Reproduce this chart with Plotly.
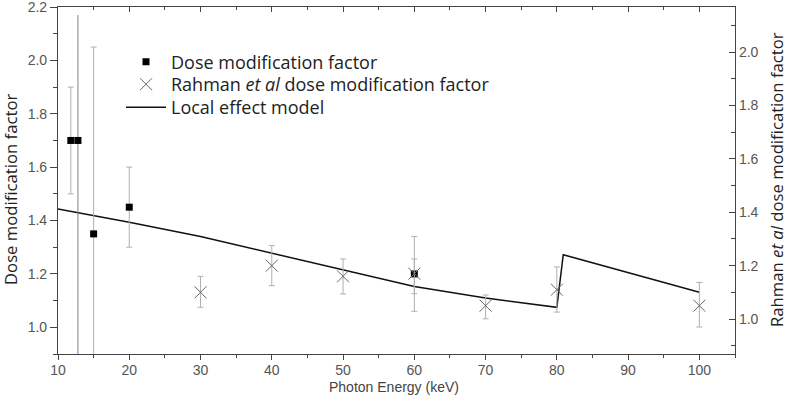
import plotly.graph_objects as go

# ---- data ----
dmf_energy = [11.8, 12.8, 15, 20, 60]
dmf_value = [1.70, 1.70, 1.35, 1.45, 1.20]
dmf_err_plus = [0.20, 0.47, 0.70, 0.15, 0.14]
dmf_err_minus = [0.20, 0.90, 0.70, 0.15, 0.14]

rahman_energy = [30, 40, 50, 60, 70, 80, 100]
rahman_value = [1.10, 1.20, 1.16, 1.17, 1.05, 1.11, 1.05]
rahman_err_plus = [0.06, 0.075, 0.065, 0.055, 0.04, 0.085, 0.087]
rahman_err_minus = [0.056, 0.075, 0.066, 0.075, 0.049, 0.084, 0.08]

lem_energy = [10, 20, 30, 40, 50, 60, 70, 80, 80.9, 100]
lem_value = [1.443, 1.394, 1.340, 1.278, 1.216, 1.153, 1.110, 1.075, 1.272, 1.131]

x_ticks = [10, 20, 30, 40, 50, 60, 70, 80, 90, 100]
y_ticks = [1.0, 1.2, 1.4, 1.6, 1.8, 2.0, 2.2]
y2_ticks = [1.0, 1.2, 1.4, 1.6, 1.8, 2.0]

# ---- styling ----
tick_font = dict(family="Liberation Sans Narrow, Arial Narrow, Liberation Sans, sans-serif", size=14, color="#555")
title_font = dict(family="Open Sans, Noto Sans, sans-serif", size=16.7, color="#222")
legend_font = dict(family="Open Sans, Noto Sans, sans-serif", size=18, color="#222")
axis_col = "#444"

fig = go.Figure()

# Rahman (right axis) drawn first so squares sit on top
fig.add_trace(go.Scatter(
    x=rahman_energy, y=rahman_value, mode="markers", yaxis="y2", legend="legend2",
    name="Rahman <i>et al</i> dose modification factor",
    marker=dict(symbol="x-thin", size=12, line=dict(width=1, color="#666"), color="#666"),
    error_y=dict(type="data", symmetric=False, array=rahman_err_plus, arrayminus=rahman_err_minus,
                 color="#b0b0b0", thickness=1, width=3),
))

# local effect model line
fig.add_trace(go.Scatter(
    x=lem_energy, y=lem_value, mode="lines", name="Local effect model", legend="legend3",
    line=dict(color="#111", width=1.5),
))

# the wide error bar of the second point (darker, no caps)
fig.add_trace(go.Scatter(
    x=dmf_energy[1:2], y=dmf_value[1:2], mode="markers", showlegend=False,
    marker=dict(symbol="square", size=7, color="#000"),
    error_y=dict(type="data", symmetric=False, array=dmf_err_plus[1:2], arrayminus=dmf_err_minus[1:2],
                 color="#808080", thickness=1, width=0),
))

# dose modification factor squares
idx = [0, 2, 3, 4]
fig.add_trace(go.Scatter(
    x=[dmf_energy[i] for i in idx], y=[dmf_value[i] for i in idx], mode="markers",
    name="Dose modification factor", legend="legend",
    marker=dict(symbol="square", size=7, color="#000"),
    error_y=dict(type="data", symmetric=False,
                 array=[dmf_err_plus[i] for i in idx], arrayminus=[dmf_err_minus[i] for i in idx],
                 color="#b0b0b0", thickness=1, width=3),
))

# empty trace to bring up the top (mirror) axis
fig.add_trace(go.Scatter(x=[], y=[], xaxis="x2", showlegend=False, hoverinfo="skip"))

L, R, T, B = 58, 52, 7, 49
W, H = 787, 403
pw, ph = W - L - R, H - T - B

def px_to_paper_x(px):
    return (px - L) / pw

def px_to_paper_y(py):
    return (H - B - py) / ph

def legend_at(center_y):
    return dict(x=px_to_paper_x(121), y=px_to_paper_y(center_y - 19), xanchor="left", yanchor="top",
                bgcolor="rgba(0,0,0,0)", font=legend_font, itemwidth=40)

fig.update_layout(
    width=W, height=H,
    margin=dict(l=L, r=R, t=T, b=B, autoexpand=False),
    paper_bgcolor="white", plot_bgcolor="white",
    showlegend=True,
    legend=legend_at(62.5),
    legend2=legend_at(85),
    legend3=legend_at(108),
    xaxis=dict(range=[10, 105], tickvals=x_ticks, ticks="outside", ticklen=5, tickcolor=axis_col,
               showline=True, linecolor=axis_col, linewidth=1.2, showgrid=False, zeroline=False,
               automargin=False, ticklabelstandoff=-2,
               minor=dict(dtick=5, tick0=10, ticks="outside", ticklen=3, tickcolor=axis_col),
               tickfont=tick_font),
    xaxis2=dict(range=[10, 105], overlaying="x", side="top", anchor="y", tickvals=x_ticks,
                ticks="inside", ticklen=5, tickcolor=axis_col, showticklabels=False, automargin=False,
                showline=True, linecolor=axis_col, linewidth=1.2, showgrid=False, zeroline=False,
                minor=dict(dtick=5, tick0=10, ticks="inside", ticklen=3, tickcolor=axis_col)),
    yaxis=dict(range=[0.9, 2.2], tickvals=y_ticks, tickformat=".1f", ticks="outside", ticklen=7,
               tickcolor=axis_col, showline=True, linecolor=axis_col, linewidth=1.2,
               showgrid=False, zeroline=False, automargin=False, ticklabeloverflow="allow",
               minor=dict(dtick=0.1, tick0=1.0, ticks="outside", ticklen=4, tickcolor=axis_col),
               tickfont=tick_font),
    yaxis2=dict(range=[0.869, 2.169], overlaying="y", side="right", tickvals=y2_ticks, tickformat=".1f",
                ticks="inside", ticklen=6, tickcolor=axis_col, showline=True, linecolor=axis_col, linewidth=1.2,
                showgrid=False, zeroline=False, automargin=False,
                minor=dict(dtick=0.1, tick0=1.0, ticks="inside", ticklen=4, tickcolor=axis_col),
                tickfont=tick_font),
    annotations=[
        dict(text="Dose modification factor", xref="paper", yref="paper",
             x=px_to_paper_x(11), y=px_to_paper_y(190), textangle=-90, showarrow=False,
             xanchor="center", yanchor="middle", font=title_font),
        dict(text="Rahman <i>et al</i> dose modification factor", xref="paper", yref="paper",
             x=px_to_paper_x(776), y=px_to_paper_y(180), textangle=-90, showarrow=False,
             xanchor="center", yanchor="middle", font=title_font),
        dict(text="Photon Energy (keV)", xref="paper", yref="paper",
             x=px_to_paper_x(394), y=px_to_paper_y(387), showarrow=False,
             xanchor="center", yanchor="middle",
             font=dict(family="Liberation Sans Narrow, Arial Narrow, Liberation Sans, sans-serif", size=14, color="#444")),
    ],
)

fig.write_html("out.html", config={"displayModeBar": False},
               post_script="document.body.style.margin='0px';")
